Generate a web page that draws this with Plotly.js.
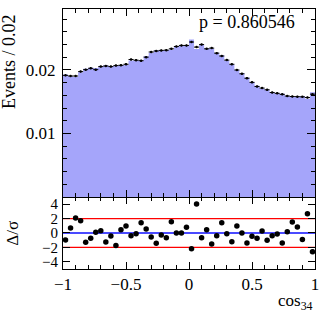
<!DOCTYPE html>
<html>
<head>
<meta charset="utf-8">
<script src="https://cdn.plot.ly/plotly-3.0.1.min.js"></script>
<style>
  html, body { margin: 0; padding: 0; background: #fff; }
  #chart1 { width: 332px; height: 326px; }
</style>
</head>
<body>
<div id="chart1"></div>
<script>
// bin centres of cos34 (bins of 0.04 over [-1, 1])
const binCenters = [
  -0.98, -0.94, -0.90, -0.86, -0.82, -0.78, -0.74, -0.70, -0.66, -0.62,
  -0.58, -0.54, -0.50, -0.46, -0.42, -0.38, -0.34, -0.30, -0.26, -0.22,
  -0.18, -0.14, -0.10, -0.06, -0.02, 0.02, 0.06, 0.10, 0.14, 0.18,
  0.22, 0.26, 0.30, 0.34, 0.38, 0.42, 0.46, 0.50, 0.54, 0.58,
  0.62, 0.66, 0.70, 0.74, 0.78, 0.82, 0.86, 0.90, 0.94, 0.98
]

// normalised data (points with error bars)
const dataValues = [
  0.01915, 0.01905, 0.01905, 0.01974, 0.02005, 0.02026, 0.02005, 0.02053, 0.02063, 0.02053,
  0.02069, 0.02074, 0.02090, 0.02165, 0.02154, 0.02146, 0.02202, 0.02283, 0.02299, 0.02308,
  0.02312, 0.02333, 0.02370, 0.02386, 0.02386, 0.02440, 0.02360, 0.02400, 0.02333, 0.02344,
  0.02265, 0.02220, 0.02155, 0.02090, 0.02000, 0.01940, 0.01870, 0.01805, 0.01740, 0.01715,
  0.01688, 0.01645, 0.01632, 0.01616, 0.01590, 0.01582, 0.01580, 0.01577, 0.01566, 0.01619
]

// fitted template (filled histogram)
const modelValues = [
  0.01930, 0.01900, 0.01890, 0.01965, 0.02020, 0.02035, 0.02030, 0.02050, 0.02075, 0.02060,
  0.02065, 0.02080, 0.02080, 0.02150, 0.02150, 0.02150, 0.02215, 0.02270, 0.02310, 0.02305,
  0.02315, 0.02320, 0.02370, 0.02385, 0.02380, 0.02480, 0.02330, 0.02395, 0.02340, 0.02335,
  0.02270, 0.02230, 0.02150, 0.02090, 0.02000, 0.01950, 0.01880, 0.01810, 0.01750, 0.01710,
  0.01690, 0.01650, 0.01630, 0.01625, 0.01590, 0.01575, 0.01575, 0.01585, 0.01545, 0.01650
]

// pulls (data - fit) / sigma
const pullValues = [
  -0.97, 0.69, 2.07, 1.70, -1.29, -0.74, 0.09, 0.32, -1.24, -0.41,
  -1.75, 0.46, 0.96, -0.37, -0.10, 1.42, 0.55, -0.55, -1.43, -0.28,
  -0.65, 1.56, 0.00, 0.00, 0.80, -2.20, 4.04, -0.65, 0.46, -1.52,
  -0.37, 1.42, -0.10, -1.20, 0.96, 0.00, -1.38, -0.46, -0.74, 0.27,
  -1.01, -0.37, -0.14, -1.38, 0.18, 1.51, 0.83, -0.92, 2.66, -2.62
]

const xRange = [-1, 1]
const pullTicks = [-4, -2, 0, 2, 4]
const pullBands = [2, -2]
const pullCenter = 0
const eventTicks = [0.01, 0.02]
const pValueText = 'p = 0.860546'

const FONT = 'Liberation Serif, Times New Roman, serif'
const FILL_COLOR = '#a5a5fa'

const fillX = [xRange[0], ...binCenters, xRange[1]]
const fillY = [modelValues[0], ...modelValues, modelValues[modelValues.length - 1]]

const traces = [
  {
    x: fillX,
    y: fillY,
    xaxis: 'x2',
    yaxis: 'y2',
    type: 'scatter',
    mode: 'lines',
    line: { width: 0, shape: 'hvh', color: FILL_COLOR },
    fill: 'tozeroy',
    fillcolor: FILL_COLOR,
    hoverinfo: 'skip'
  },
  {
    x: binCenters,
    y: dataValues,
    xaxis: 'x2',
    yaxis: 'y2',
    type: 'scatter',
    mode: 'markers',
    marker: { color: 'black', size: 2.5 },
    error_x: { type: 'constant', value: 0.02, width: 0, thickness: 1, color: 'black' },
    error_y: { type: 'constant', value: 0.00013, width: 0, thickness: 1, color: 'black' }
  },
  {
    x: binCenters,
    y: pullValues,
    xaxis: 'x',
    yaxis: 'y',
    type: 'scatter',
    mode: 'markers',
    marker: { color: 'black', size: 5.5 },
    cliponaxis: true
  }
]

const shapes = pullBands.map(v => ({
  type: 'line', xref: 'x domain', yref: 'y', x0: 0, x1: 1, y0: v, y1: v,
  line: { color: '#ff0000', width: 1.2 }, layer: 'below'
}))
shapes.push({
  type: 'line', xref: 'x domain', yref: 'y', x0: 0, x1: 1, y0: pullCenter, y1: pullCenter,
  line: { color: '#4a4aff', width: 1.8 }, layer: 'below'
})

const commonAxis = {
  showline: true,
  linecolor: 'black',
  linewidth: 1,
  mirror: 'allticks',
  ticks: 'inside',
  tickcolor: 'black',
  tickwidth: 1,
  showgrid: false,
  zeroline: false,
  tickfont: { family: FONT, size: 17, color: 'black' }
}

const layout = {
  width: 332,
  height: 326,
  margin: { l: 63, r: 17, t: 9, b: 57 },
  paper_bgcolor: 'white',
  plot_bgcolor: 'white',
  showlegend: false,
  font: { family: FONT, color: 'black' },
  xaxis: Object.assign({}, commonAxis, {
    range: xRange,
    anchor: 'y',
    dtick: 0.5,
    tick0: -1,
    ticklen: 7,
    minor: { dtick: 0.1, tick0: -1, ticks: 'inside', ticklen: 4, tickcolor: 'black', showgrid: false },
    ticklabelstandoff: 0
  }),
  xaxis2: Object.assign({}, commonAxis, {
    range: xRange,
    anchor: 'y2',
    matches: 'x',
    dtick: 0.5,
    tick0: -1,
    ticklen: 7,
    minor: { dtick: 0.1, tick0: -1, ticks: 'inside', ticklen: 4, tickcolor: 'black', showgrid: false },
    showticklabels: false
  }),
  yaxis: Object.assign({}, commonAxis, {
    domain: [0, 0.277],
    range: [-5, 5],
    anchor: 'x',
    tickmode: 'array',
    tickvals: pullTicks,
    ticklen: 7,
    tickfont: { family: FONT, size: 15, color: 'black' },
    ticklabelstandoff: 1
  }),
  yaxis2: Object.assign({}, commonAxis, {
    domain: [0.277, 1],
    range: [0, 0.0296],
    anchor: 'x2',
    tickmode: 'array',
    tickvals: eventTicks,
    ticklen: 8,
    minor: { dtick: 0.002, tick0: 0, ticks: 'inside', ticklen: 4, tickcolor: 'black', showgrid: false },
    ticklabelstandoff: 3
  }),
  shapes: shapes,
  annotations: [
    {
      text: 'Events / 0.02',
      xref: 'paper', yref: 'paper',
      x: -0.215, y: 0.99,
      xanchor: 'center', yanchor: 'top',
      textangle: -90,
      showarrow: false,
      font: { family: FONT, size: 18, color: 'black' }
    },
    {
      text: 'Δ/σ',
      xref: 'paper', yref: 'paper',
      x: -0.2, y: 0.138,
      xanchor: 'center', yanchor: 'middle',
      textangle: -90,
      showarrow: false,
      font: { family: FONT, size: 17, color: 'black' }
    },
    {
      text: 'cos<sub>34</sub>',
      xref: 'paper', yref: 'paper',
      x: 1, y: -0.075,
      xanchor: 'right', yanchor: 'top',
      showarrow: false,
      font: { family: FONT, size: 17, color: 'black' }
    },
    {
      text: pValueText,
      xref: 'paper', yref: 'paper',
      x: 0.93, y: 0.995,
      xanchor: 'right', yanchor: 'top',
      showarrow: false,
      font: { family: FONT, size: 18, color: 'black' }
    }
  ]
}

Plotly.newPlot('chart1', traces, layout, { staticPlot: true, displayModeBar: false })
</script>
</body>
</html>
